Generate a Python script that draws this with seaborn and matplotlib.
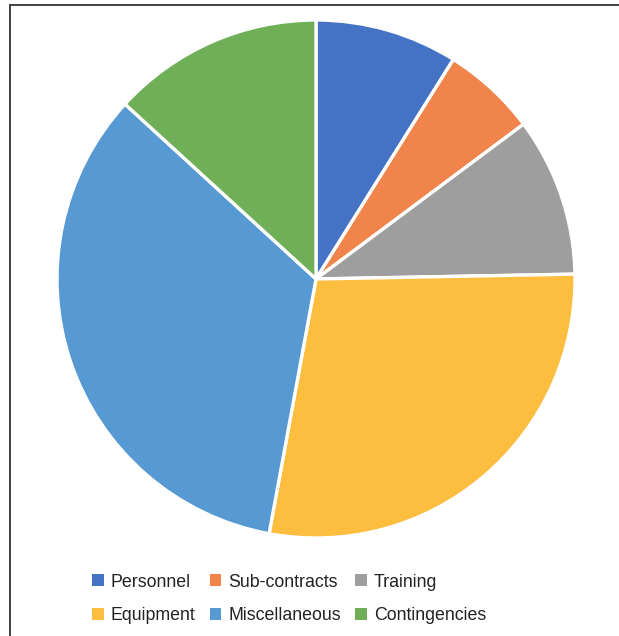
import matplotlib
matplotlib.use("Agg")
import matplotlib.pyplot as plt
import seaborn as sns
from matplotlib.patches import Patch
from matplotlib.lines import Line2D

categories = ["Personnel", "Sub-contracts", "Training", "Equipment", "Miscellaneous", "Contingencies"]
values = [8.9, 5.9, 9.9, 28.2, 33.9, 13.2]
colors = ["#4472C4", "#F0844A", "#9E9E9E", "#FDBD3E", "#5799D2", "#6EAF58"]

sns.set_theme(style="white")
plt.rcParams["font.family"] = ["Liberation Sans", "DejaVu Sans"]

W, H = 619, 636
fig = plt.figure(figsize=(W / 100, H / 100), dpi=100)
cx, cy, r = 316, 279, 259
ax = fig.add_axes([(cx - r) / W, 1 - (cy + r) / H, 2 * r / W, 2 * r / H])

wedges, _ = ax.pie(values, colors=colors, startangle=90, counterclock=False,
                   wedgeprops=dict(edgecolor="white", linewidth=2.4, joinstyle="round"))
ax.set_xlim(-1, 1)
ax.set_ylim(-1, 1)
ax.set_aspect("equal")
ax.axis("off")

# frame (top and left edges visible)
fig.add_artist(Line2D([10 / W, 1], [1 - 5 / H, 1 - 5 / H], color="#333333", lw=1.3, transform=fig.transFigure))
fig.add_artist(Line2D([10 / W, 10 / W], [1 - 5 / H, 0], color="#333333", lw=1.3, transform=fig.transFigure))

# legend: row-major visual order -> column-major handle order
order = [0, 3, 1, 4, 2, 5]
handles = [Patch(facecolor=colors[i], edgecolor="none") for i in order]
labels = [categories[i] for i in order]
fig.legend(handles, labels, loc="center", bbox_to_anchor=(289 / W, 1 - 599 / H), ncol=3,
           frameon=False, fontsize=12.8, handlelength=0.65, handleheight=0.65,
           handletextpad=0.4, columnspacing=0.8, labelspacing=0.95, labelcolor="#222222")

fig.savefig("out.png", dpi=100)
